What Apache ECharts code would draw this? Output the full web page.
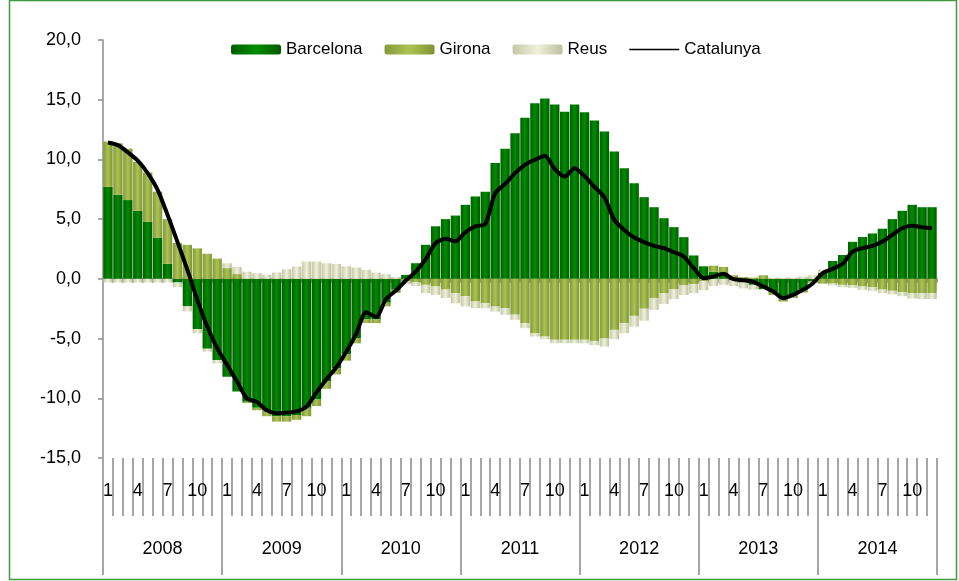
<!DOCTYPE html>
<html>
<head>
<meta charset="utf-8">
<script src="https://cdn.jsdelivr.net/npm/echarts@6/dist/echarts.min.js"></script>
<style>
html,body{margin:0;padding:0;background:#fff;}
#chart{width:959px;height:581px;}
</style>
</head>
<body>
<div id="chart"></div>
<script>
const years = ['2008','2009','2010','2011','2012','2013','2014'];
const monthLabels = ['1','2','3','4','5','6','7','8','9','10','11','12'];
const shownMonths = ['1','4','7','10'];
const yTicks = { min: -15, max: 20, interval: 5 };

const barcelona = [
  7.7, 7.05, 6.6, 5.7, 4.8, 3.45, 1.25, -0.3, -2.3, -4.2, -5.85, -6.8,
  -8.2, -9.44, -10.3, -10.8, -11.0, -11.5, -11.5, -11.4, -10.8, -10.1, -8.6, -7.5,
  -6.3, -5.0, -3.4, -3.4, -2.0, -0.9, 0.33, 1.31, 2.85, 4.4, 5.0, 5.3,
  6.2, 6.9, 7.3, 9.7, 10.9, 12.2, 13.5, 14.7, 15.1, 14.6, 14.0, 14.6,
  13.96, 13.26, 12.34, 10.66, 9.27, 8.0, 6.84, 6.0, 5.08, 4.33, 3.49, 1.96,
  1.05, 0.6, 0.3, -0.1, -0.3, -0.5, -0.85, -1.1, -1.6, -1.3, -0.9, -0.2,
  0.5, 1.5, 2.0, 3.1, 3.5, 3.8, 4.2, 5.0, 5.7, 6.2, 6.0, 6.0
];
const girona = [
  3.8, 4.3, 4.3, 4.1, 4.1, 3.85, 3.75, 3.0, 2.85, 2.55, 2.1, 1.7,
  0.9, 0.4, -0.1, -0.2, -0.5, -0.45, -0.45, -0.4, -0.7, -0.55, -0.6, -0.5,
  -0.55, -0.4, -0.3, -0.3, -0.3, -0.28, -0.2, -0.3, -0.5, -0.64, -0.9, -1.2,
  -1.45, -1.9, -2.04, -2.32, -2.46, -3.0, -3.71, -4.55, -4.83, -5.1, -5.1, -5.1,
  -5.1, -5.2, -5.0, -4.27, -3.71, -3.1, -2.5, -1.6, -1.2, -0.85, -0.55, -0.45,
  -0.2, 0.5, 0.7, 0.3, 0.15, 0.1, 0.3, -0.25, -0.3, -0.3, -0.25, -0.1,
  -0.4, -0.4, -0.5, -0.55, -0.64, -0.7, -0.9, -1.0, -1.1, -1.2, -1.2, -1.2
];
const reus = [
  -0.3, -0.3, -0.3, -0.3, -0.3, -0.3, -0.3, -0.4, -0.42, -0.35, -0.25, -0.28,
  0.4, 0.6, 0.6, 0.47, 0.33, 0.53, 0.81, 1.03, 1.45, 1.45, 1.31, 1.25,
  1.05, 0.95, 0.75, 0.53, 0.39, 0.15, -0.25, -0.3, -0.7, -0.7, -0.7, -0.85,
  -0.85, -0.55, -0.42, -0.42, -0.55, -0.43, -0.42, -0.28, -0.22, -0.29, -0.29, -0.29,
  -0.3, -0.35, -0.67, -0.78, -0.84, -0.9, -1.0, -1.0, -0.9, -0.85, -0.8, -0.75,
  -0.75, -0.6, -0.5, -0.5, -0.5, -0.4, -0.1, 0.1, 0.1, 0.1, 0.2, 0.3,
  0.3, -0.15, -0.2, -0.2, -0.28, -0.3, -0.3, -0.3, -0.35, -0.45, -0.5, -0.5
];
const catalunya = [
  11.42, 11.2, 10.6, 9.9, 8.85, 7.45, 5.36, 3.1, 0.75, -1.76, -3.99, -5.8,
  -7.2, -8.6, -10.0, -10.3, -11.0, -11.25, -11.2, -11.1, -10.7, -9.5, -8.4, -7.4,
  -6.1, -4.6, -2.8, -3.2, -1.7, -0.98, -0.14, 0.61, 1.65, 2.99, 3.35, 3.14,
  3.9, 4.4, 4.6, 7.17, 7.95, 8.85, 9.55, 9.97, 10.3, 9.19, 8.57, 9.27,
  8.6, 7.7, 6.84, 4.94, 4.1, 3.46, 3.07, 2.76, 2.57, 2.23, 1.87, 0.9,
  0.06, 0.2, 0.42, -0.03, -0.11, -0.25, -0.64, -1.06, -1.62, -1.34, -0.92, -0.36,
  0.48, 0.84, 1.26, 2.29, 2.57, 2.76, 3.12, 3.69, 4.24, 4.44, 4.33, 4.24
];

const monthCats = [];
years.forEach(y => monthLabels.forEach(m => monthCats.push(y + '-' + m)));

const FONT = "'Liberation Sans', Arial, sans-serif";
const grad = (a, b, c) => ({
  type: 'linear', x: 0, y: 0, x2: 1, y2: 0,
  colorStops: [{offset: 0, color: a}, {offset: 0.5, color: b}, {offset: 1, color: c}]
});

const chart = echarts.init(document.getElementById('chart'), null, {renderer: 'canvas'});
chart.setOption({
  animation: false,
  backgroundColor: '#ffffff',
  textStyle: { fontFamily: FONT },
  graphic: [{
    type: 'rect', silent: true,
    shape: { x: 9.5, y: 0.5, width: 947, height: 579 },
    style: { fill: 'none', stroke: '#3c9c3c', lineWidth: 1.5 }
  }],
  legend: {
    left: 226, top: 36,
    itemWidth: 50, itemHeight: 10, itemGap: 22,
    textStyle: { fontFamily: FONT, fontSize: 17, color: '#000' },
    data: ['Barcelona', 'Girona', 'Reus',
      { name: 'Catalunya', icon: 'path://M0,0L100,0L100,3L0,3Z' }]
  },
  grid: { left: 103, right: 22, top: 40, bottom: 123, containLabel: false },
  xAxis: [
    {
      type: 'category', data: monthCats, position: 'bottom',
      axisLine: { show: false, onZero: false },
      axisTick: { show: true, interval: 0, length: 58, lineStyle: { color: '#a6a6a6', width: 2 } },
      axisLabel: {
        interval: 0, margin: 24, color: '#000', fontSize: 18, fontFamily: FONT,
        formatter: v => { const m = v.split('-')[1]; return shownMonths.includes(m) ? m : ''; }
      },
      splitLine: { show: false }
    },
    {
      type: 'category', data: years, position: 'bottom',
      axisLine: { show: false, onZero: false },
      axisTick: { show: true, interval: 0, length: 117, lineStyle: { color: '#a6a6a6', width: 2 } },
      axisLabel: { interval: 0, margin: 82, color: '#000', fontSize: 18, fontFamily: FONT },
      splitLine: { show: false }
    },
    {
      type: 'category', data: monthCats, position: 'bottom',
      axisLine: { show: true, onZero: true, lineStyle: { color: '#a0a0a0', width: 2 } },
      axisTick: { show: true, interval: 0, length: 4, lineStyle: { color: '#a0a0a0', width: 2 } },
      axisLabel: { show: false },
      splitLine: { show: false }
    }
  ],
  yAxis: {
    type: 'value', min: yTicks.min, max: yTicks.max, interval: yTicks.interval,
    axisLine: { show: true, onZero: false, lineStyle: { color: '#8c8c8c', width: 1.5 } },
    axisTick: { show: true, length: 5, lineStyle: { color: '#8c8c8c', width: 1.5 } },
    splitLine: { show: false },
    axisLabel: {
      margin: 22, color: '#000', fontSize: 18, fontFamily: FONT,
      formatter: v => v.toFixed(1).replace('.', ',')
    }
  },
  series: [
    {
      name: 'Barcelona', type: 'bar', stack: 'total', xAxisIndex: 0,
      barCategoryGap: '6%',
      itemStyle: { color: grad('#005f00', '#008c00', '#005a00') },
      data: barcelona
    },
    {
      name: 'Girona', type: 'bar', stack: 'total', xAxisIndex: 0,
      barCategoryGap: '6%',
      itemStyle: { color: grad('#84993a', '#acc352', '#7e9434') },
      data: girona
    },
    {
      name: 'Reus', type: 'bar', stack: 'total', xAxisIndex: 0,
      barCategoryGap: '6%',
      itemStyle: { color: grad('#c4c8a4', '#eff1dc', '#bcc09c') },
      data: reus
    },
    {
      name: 'Catalunya', type: 'line', xAxisIndex: 0,
      symbol: 'none', smooth: 0.25, z: 5,
      lineStyle: { color: '#000', width: 4 },
      itemStyle: { color: '#000' },
      data: catalunya
    }
  ]
});
</script>
</body>
</html>
